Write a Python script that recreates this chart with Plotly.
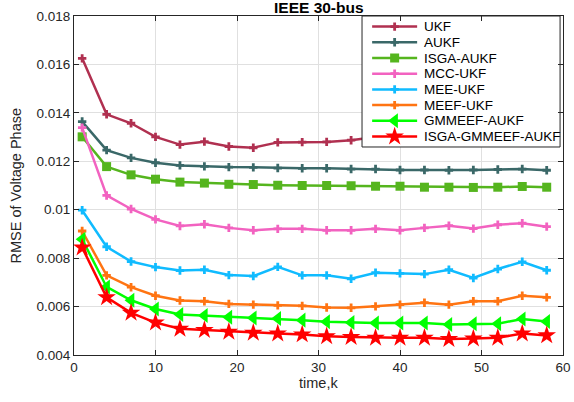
import plotly.graph_objects as go

time_k = [1, 4, 7, 10, 13, 16, 19, 22, 25, 28, 31, 34, 37, 40, 43, 46, 49, 52, 55, 58]

ukf = [0.01625, 0.01394, 0.01357, 0.01301, 0.01269, 0.01281, 0.01261, 0.01256, 0.01278, 0.01279,
       0.01280, 0.01287, 0.01300, 0.01302, 0.01308, 0.01303, 0.01310, 0.01312, 0.01318, 0.01311]
aukf = [0.01364, 0.01246, 0.01214, 0.01194, 0.01183, 0.01179, 0.01176, 0.01175, 0.01172, 0.01171,
        0.01171, 0.01168, 0.01168, 0.01164, 0.01164, 0.01163, 0.01164, 0.01166, 0.01168, 0.01163]
isga_aukf = [0.01301, 0.01178, 0.01144, 0.01126, 0.01114, 0.01110, 0.01105, 0.01104, 0.01101, 0.01100,
             0.01100, 0.01099, 0.01097, 0.01097, 0.01093, 0.01093, 0.01092, 0.01093, 0.01096, 0.01093]
mcc_ukf = [0.01339, 0.01059, 0.01003, 0.00960, 0.00933, 0.00940, 0.00925, 0.00915, 0.00921, 0.00921,
           0.00915, 0.00915, 0.00921, 0.00915, 0.00925, 0.00934, 0.00922, 0.00938, 0.00944, 0.00930]
mee_ukf = [0.00998, 0.00847, 0.00786, 0.00763, 0.00749, 0.00752, 0.00730, 0.00726, 0.00764, 0.00729,
           0.00729, 0.00715, 0.00740, 0.00737, 0.00734, 0.00752, 0.00718, 0.00755, 0.00785, 0.00750]
meef_ukf = [0.00912, 0.00729, 0.00680, 0.00645, 0.00625, 0.00622, 0.00611, 0.00608, 0.00605, 0.00603,
            0.00596, 0.00595, 0.00601, 0.00608, 0.00616, 0.00608, 0.00622, 0.00622, 0.00645, 0.00638]
gmmeef_aukf = [0.00878, 0.00681, 0.00626, 0.00590, 0.00567, 0.00563, 0.00556, 0.00553, 0.00551, 0.00544,
               0.00537, 0.00534, 0.00532, 0.00532, 0.00532, 0.00526, 0.00529, 0.00529, 0.00549, 0.00538]
isga_gmmeef_aukf = [0.00844, 0.00638, 0.00574, 0.00534, 0.00508, 0.00503, 0.00496, 0.00492, 0.00489, 0.00485,
                    0.00477, 0.00474, 0.00471, 0.00471, 0.00471, 0.00466, 0.00468, 0.00471, 0.00489, 0.00481]

series_names = ["UKF", "AUKF", "ISGA-AUKF", "MCC-UKF", "MEE-UKF", "MEEF-UKF", "GMMEEF-AUKF", "ISGA-GMMEEF-AUKF"]
series_values = [ukf, aukf, isga_aukf, mcc_ukf, mee_ukf, meef_ukf, gmmeef_aukf, isga_gmmeef_aukf]

y_tick_vals = [0.004, 0.006, 0.008, 0.010, 0.012, 0.014, 0.016, 0.018]
y_tick_text = ["0.004", "0.006", "0.008", "0.01", "0.012", "0.014", "0.016", "0.018"]
x_tick_vals = [0, 10, 20, 30, 40, 50, 60]

styles = [
    dict(color="#B03050", symbol="cross", size=7),
    dict(color="#3A6868", symbol="cross", size=7),
    dict(color="#55B51E", symbol="square", size=9),
    dict(color="#F262C0", symbol="cross", size=7),
    dict(color="#10BBFF", symbol="cross", size=7),
    dict(color="#FF7412", symbol="cross", size=7),
    dict(color="#00FF00", symbol="triangle-left", size=13),
    dict(color="#FF0000", symbol="star", size=14),
]

FONT = "Liberation Sans, Arial, sans-serif"

fig = go.Figure()
for name, vals, st in zip(series_names, series_values, styles):
    fig.add_trace(go.Scatter(
        x=time_k, y=vals, name=name, mode="lines+markers",
        line=dict(color=st["color"], width=2.5),
        marker=dict(color=st["color"], symbol=st["symbol"], size=st["size"], line=dict(width=0)),
        showlegend=False,
    ))

# --- legend box (MATLAB style, compact rows), drawn on an overlaid unit axis ---
LEG_X0, LEG_X1 = 0.589, 0.994       # box, fraction of plot width
LEG_Y0, LEG_Y1 = 0.6136, 1.0        # box, fraction of plot height
LEG_ROW0, LEG_ROW_STEP = 0.9687, 0.0463
LEG_LINE_X0, LEG_LINE_X1, LEG_TEXT_X = 0.6097, 0.7017, 0.712

fig.add_trace(go.Scatter(
    x=[LEG_X0, LEG_X1, LEG_X1, LEG_X0, LEG_X0], y=[LEG_Y0, LEG_Y0, LEG_Y1, LEG_Y1, LEG_Y0],
    mode="lines", fill="toself", fillcolor="white", line=dict(color="#262626", width=1),
    xaxis="x2", yaxis="y2", showlegend=False, hoverinfo="skip",
))
for i, (name, st) in enumerate(zip(series_names, styles)):
    yc = LEG_ROW0 - i * LEG_ROW_STEP
    fig.add_trace(go.Scatter(
        x=[LEG_LINE_X0, LEG_LINE_X1], y=[yc, yc], mode="lines",
        line=dict(color=st["color"], width=2.5),
        xaxis="x2", yaxis="y2", showlegend=False, hoverinfo="skip",
    ))
    fig.add_trace(go.Scatter(
        x=[(LEG_LINE_X0 + LEG_LINE_X1) / 2], y=[yc], mode="markers",
        marker=dict(color=st["color"], symbol=st["symbol"], size=st["size"], line=dict(width=0)),
        xaxis="x2", yaxis="y2", showlegend=False, hoverinfo="skip",
    ))
    fig.add_annotation(text=name, xref="x2", yref="y2", x=LEG_TEXT_X, y=yc,
                       xanchor="left", yanchor="middle", showarrow=False,
                       font=dict(family=FONT, size=13.5, color="#000000"))

axis_common = dict(
    showline=True, linecolor="#262626", linewidth=1, mirror="ticks",
    ticks="inside", ticklen=5, tickcolor="#262626",
    showgrid=True, gridcolor="#E0E0E0", gridwidth=1, zeroline=False, automargin=False,
    tickfont=dict(family=FONT, size=13.5, color="#262626"),
)

fig.update_layout(
    width=574, height=402,
    margin=dict(l=74, r=11, t=16, b=47),
    paper_bgcolor="white", plot_bgcolor="white",
    font=dict(family=FONT, size=13, color="#262626"),
    xaxis=dict(range=[0, 60], tickvals=x_tick_vals, **axis_common),
    yaxis=dict(range=[0.004, 0.018], tickvals=y_tick_vals, ticktext=y_tick_text, **axis_common),
    xaxis2=dict(range=[0, 1], overlaying="x", visible=False, fixedrange=True),
    yaxis2=dict(range=[0, 1], overlaying="y", visible=False, fixedrange=True),
    showlegend=False,
)

# axis titles and chart title
fig.add_annotation(text="time,k", xref="paper", yref="paper", x=0.5, y=0,
                   xanchor="center", yanchor="middle", yshift=-28, showarrow=False,
                   font=dict(family=FONT, size=14.5, color="#262626"))
fig.add_annotation(text="RMSE of Voltage Phase", xref="paper", yref="paper", x=0, y=0.5,
                   xanchor="center", yanchor="middle", xshift=-59, textangle=-90, showarrow=False,
                   font=dict(family=FONT, size=14.5, color="#262626"))
fig.add_annotation(text="<b>IEEE 30-bus</b>", xref="paper", yref="paper", x=0.5, y=1.0,
                   xanchor="center", yanchor="bottom", yshift=-2, showarrow=False,
                   font=dict(family=FONT, size=15.5, color="#000000"))

fig.write_html("out.html", config={"displayModeBar": False},
               post_script="document.body.style.margin='0';document.body.style.overflow='hidden';")
